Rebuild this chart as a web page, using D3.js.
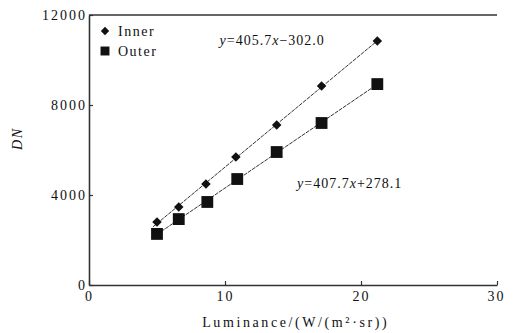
<!DOCTYPE html>
<html>
<head>
<meta charset="utf-8">
<script src="https://cdn.jsdelivr.net/npm/d3@7"></script>
<style>
  body { margin: 0; background: #fff; }
  svg { display: block; }
  text { font-family: "Liberation Serif", "DejaVu Serif", serif; fill: #111; }
</style>
</head>
<body>
<svg id="chart" width="513" height="333"></svg>
<script>
// values
const innerX = [5.0, 6.6, 8.6, 10.8, 13.8, 17.1, 21.2];
const innerY = [2800, 3470, 4490, 5690, 7110, 8840, 10840];
const outerX = [5.0, 6.6, 8.7, 10.9, 13.8, 17.1, 21.2];
const outerY = [2270, 2930, 3690, 4710, 5910, 7200, 8930];
const xTicks = [0, 10, 20, 30];
const yTicks = [0, 4000, 8000, 12000];
const seriesNames = ['Inner', 'Outer'];
const equations = ['y=405.7x\u2212302.0', 'y=407.7x+278.1'];

const svg = d3.select('#chart');
const margin = { top: 15, right: 16, bottom: 48, left: 89 };
const width = 513 - margin.left - margin.right;
const height = 333 - margin.top - margin.bottom;

const x = d3.scaleLinear().domain([0, 30]).range([0, width]);
const y = d3.scaleLinear().domain([0, 12000]).range([height, 0]);

const g = svg.append('g').attr('transform', `translate(${margin.left},${margin.top})`);

// axes, ticks pointing inward
const xAxis = g.append('g')
  .attr('transform', `translate(0,${height})`)
  .call(d3.axisBottom(x).tickValues(xTicks).tickFormat(d3.format('d'))
    .tickSizeInner(-4).tickSizeOuter(0).tickPadding(6));
const yAxis = g.append('g')
  .call(d3.axisLeft(y).tickValues(yTicks).tickFormat(d3.format('d'))
    .tickSizeInner(-4).tickSizeOuter(0).tickPadding(2));

[xAxis, yAxis].forEach((a) => {
  a.select('.domain').attr('stroke', '#333').attr('stroke-width', 1.6);
  a.selectAll('.tick line').attr('stroke', '#333').attr('stroke-width', 1.2);
  a.selectAll('.tick text')
    .attr('font-family', '"Liberation Serif", serif')
    .attr('font-size', 14)
    .attr('letter-spacing', 2)
    .attr('fill', '#111');
});
xAxis.selectAll('.tick text').filter((d) => d === 30).attr('text-anchor', 'end').attr('dx', 8);

// top frame line
g.append('line')
  .attr('x1', x(0)).attr('x2', x(30))
  .attr('y1', y(12000)).attr('y2', y(12000))
  .attr('stroke', '#333').attr('stroke-width', 1.6);

// least squares fit for the drawn lines
function fit(xs, ys) {
  const mx = d3.mean(xs), my = d3.mean(ys);
  const b = d3.sum(xs, (v, i) => (v - mx) * (ys[i] - my)) / d3.sum(xs, (v) => (v - mx) ** 2);
  return (v) => my + b * (v - mx);
}

const series = [
  { xs: innerX, ys: innerY, size: 45, rot: 45 },
  { xs: outerX, ys: outerY, size: 140, rot: 0 }
];

series.forEach((s) => {
  const f = fit(s.xs, s.ys);
  const x0 = d3.min(s.xs) - 0.3, x1 = d3.max(s.xs) + 0.2;
  g.append('line')
    .attr('x1', x(x0)).attr('y1', y(f(x0)))
    .attr('x2', x(x1)).attr('y2', y(f(x1)))
    .attr('stroke', '#333').attr('stroke-width', 1)
    .attr('stroke-dasharray', '4,1');
  g.selectAll(null)
    .data(s.xs.map((v, i) => [v, s.ys[i]]))
    .join('path')
    .attr('d', d3.symbol().type(d3.symbolSquare).size(s.size))
    .attr('transform', (d) => `translate(${x(d[0])},${y(d[1])}) rotate(${s.rot})`)
    .attr('fill', '#111');
});

// legend
const legend = g.append('g').attr('transform', 'translate(16,16)');
series.forEach((s, i) => {
  legend.append('path')
    .attr('d', d3.symbol().type(d3.symbolSquare).size(i === 0 ? 35 : 80))
    .attr('transform', `translate(0,${i * 20}) rotate(${s.rot})`)
    .attr('fill', '#111');
  legend.append('text')
    .attr('x', 13).attr('y', i * 20 + 5)
    .attr('font-size', 14)
    .attr('letter-spacing', 1.5)
    .text(seriesNames[i]);
});

// equations
function eqText(tx, ty, str) {
  const t = g.append('text').attr('x', tx).attr('y', ty)
    .attr('font-size', 14).attr('letter-spacing', 1);
  const m = str.match(/^(y)(=[\d.]+)(x)(.*)$/);
  t.append('tspan').attr('font-style', 'italic').text(m[1]);
  t.append('tspan').text(m[2]);
  t.append('tspan').attr('font-style', 'italic').text(m[3]);
  t.append('tspan').text(m[4]);
}
eqText(x(9.6), y(10650), equations[0]);
eqText(x(15.3), y(4300), equations[1]);

// axis titles
svg.append('text')
  .attr('x', margin.left + x(15.2)).attr('y', 327)
  .attr('text-anchor', 'middle')
  .attr('font-size', 14)
  .attr('letter-spacing', 2.6)
  .text('Luminance/(W/(m\u00B2\u00B7sr))');

svg.append('text')
  .attr('transform', `translate(22,${margin.top + y(6500)}) rotate(-90)`)
  .attr('text-anchor', 'middle')
  .attr('font-size', 14)
  .attr('font-style', 'italic')
  .attr('letter-spacing', 1.5)
  .text('DN');
</script>
</body>
</html>
